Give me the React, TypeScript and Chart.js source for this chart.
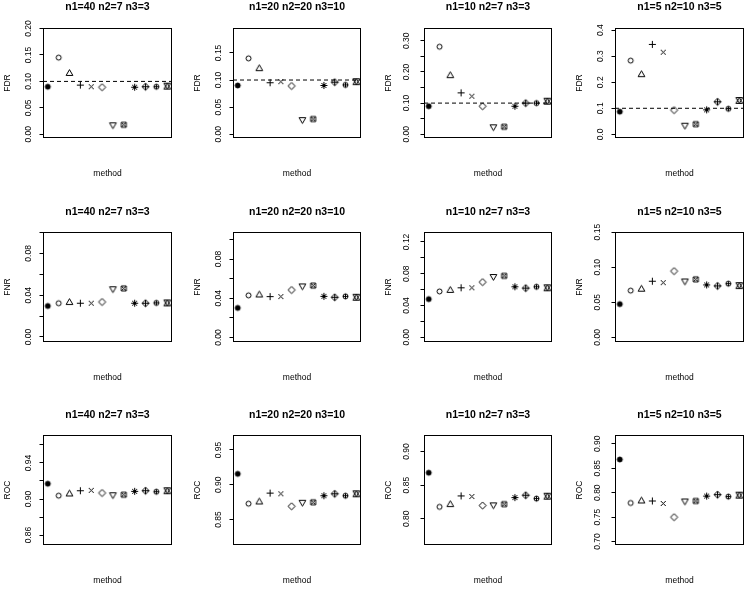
import React, { useEffect, useRef } from "react";
import { Chart, registerables } from "chart.js";

Chart.register(...registerables);

// ---------------- data ----------------
const methods = [1, 2, 3, 4, 5, 6, 7, 8, 9, 10, 11, 12];
const pchCodes = [16, 1, 2, 3, 4, 5, 6, 7, 8, 9, 10, 11];
const settings = ["n1=40 n2=7 n3=3", "n1=20 n2=20 n3=10", "n1=10 n2=7 n3=3", "n1=5 n2=10 n3=5"];
const metricNames = ["FDR", "FNR", "ROC"];
const xAxisTitle = "method";
const fdrLevel = 0.1;

const fdr_40_7_3 = [0.090, 0.145, 0.115, 0.093, 0.090, 0.089, 0.018, 0.018, 0.089, 0.090, 0.090, 0.091];
const fdr_20_20_10 = [0.090, 0.140, 0.121, 0.095, 0.097, 0.089, 0.027, 0.028, 0.090, 0.096, 0.091, 0.097];
const fdr_10_7_3 = [0.090, 0.281, 0.188, 0.133, 0.122, 0.090, 0.024, 0.024, 0.090, 0.100, 0.100, 0.106];
const fdr_5_10_5 = [0.087, 0.283, 0.229, 0.345, 0.315, 0.093, 0.035, 0.039, 0.094, 0.125, 0.098, 0.130];

const fnr_40_7_3 = [0.0297, 0.0323, 0.0330, 0.0323, 0.0323, 0.0335, 0.0462, 0.0465, 0.0323, 0.0323, 0.0326, 0.0326];
const fnr_20_20_10 = [0.0302, 0.0430, 0.0434, 0.0417, 0.0417, 0.0485, 0.0526, 0.0529, 0.0420, 0.0410, 0.0420, 0.0410];
const fnr_10_7_3 = [0.0480, 0.0577, 0.0590, 0.0623, 0.0623, 0.0694, 0.0765, 0.0773, 0.0635, 0.0619, 0.0635, 0.0623];
const fnr_5_10_5 = [0.0474, 0.0667, 0.0686, 0.0800, 0.0780, 0.0945, 0.0804, 0.0827, 0.0748, 0.0734, 0.0766, 0.0738];

const roc_40_7_3 = [0.9170, 0.9037, 0.9056, 0.9092, 0.9096, 0.9067, 0.9048, 0.9048, 0.9085, 0.9092, 0.9081, 0.9092];
const roc_20_20_10 = [0.9157, 0.8729, 0.8753, 0.8881, 0.8871, 0.8691, 0.8749, 0.8749, 0.8843, 0.8871, 0.8843, 0.8871];
const roc_10_7_3 = [0.8684, 0.8177, 0.8211, 0.8340, 0.8330, 0.8197, 0.8207, 0.8217, 0.8315, 0.8350, 0.8300, 0.8335];
const roc_5_10_5 = [0.8680, 0.7790, 0.7830, 0.7830, 0.7780, 0.7500, 0.7830, 0.7830, 0.7930, 0.7960, 0.7920, 0.7950];

// tick values and labels
const fdrTicks = [
  [0, 0.05, 0.1, 0.15, 0.2],
  [0, 0.05, 0.1, 0.15],
  [0, 0.05, 0.1, 0.15, 0.2, 0.25, 0.3],
  [0, 0.1, 0.2, 0.3, 0.4],
];
const fdrTickLabels = [
  ["0.00", "0.05", "0.10", "0.15", "0.20"],
  ["0.00", "0.05", "0.10", "0.15"],
  ["0.00", "", "0.10", "", "0.20", "", "0.30"],
  ["0.0", "0.1", "0.2", "0.3", "0.4"],
];
const fnrTicks = [
  [0, 0.02, 0.04, 0.06, 0.08, 0.1],
  [0, 0.02, 0.04, 0.06, 0.08, 0.1],
  [0, 0.02, 0.04, 0.06, 0.08, 0.1, 0.12],
  [0, 0.05, 0.1, 0.15],
];
const fnrTickLabels = [
  ["0.00", "", "0.04", "", "0.08", ""],
  ["0.00", "", "0.04", "", "0.08", ""],
  ["0.00", "", "0.04", "", "0.08", "", "0.12"],
  ["0.00", "0.05", "0.10", "0.15"],
];
const rocTicks = [
  [0.86, 0.88, 0.9, 0.92, 0.94, 0.96],
  [0.85, 0.9, 0.95],
  [0.8, 0.85, 0.9],
  [0.7, 0.75, 0.8, 0.85, 0.9],
];
const rocTickLabels = [
  ["0.86", "", "0.90", "", "0.94", ""],
  ["0.85", "0.90", "0.95"],
  ["0.80", "0.85", "0.90"],
  ["0.70", "0.75", "0.80", "0.85", "0.90"],
];

// axis ranges
const fdrRanges = [[-0.007, 0.201], [-0.007, 0.196], [-0.012, 0.341], [-0.014, 0.408]];
const fnrRanges = [[-0.0048, 0.1005], [-0.0045, 0.1075], [-0.006, 0.1325], [-0.0066, 0.1502]];
const rocRanges = [[0.849, 0.971], [0.8135, 0.9715], [0.761, 0.9245], [0.693, 0.918]];
const xRange = [0.56, 12.44];

// ---------------- layout ----------------
const FONT = '"Liberation Sans", Arial, Helvetica, sans-serif';
const TITLE_SIZE = 10.5;
const LABEL_SIZE = 8.5;
const boxLefts = [43, 233, 424, 615];
const boxWidths = [129, 128, 128, 129];
const boxTops = [28, 232, 435];
const boxHeights = [110, 110, 110];
const titleGaps = [20.8, 20.2, 19.6];
const tickPads = [2.2, 2.2, 5.2, 5.2];
const ML = 44, MT = 28, MB = 46, MR = 5;
const SYM_R = 2.5;

const valueRows = [
  [fdr_40_7_3, fdr_20_20_10, fdr_10_7_3, fdr_5_10_5],
  [fnr_40_7_3, fnr_20_20_10, fnr_10_7_3, fnr_5_10_5],
  [roc_40_7_3, roc_20_20_10, roc_10_7_3, roc_5_10_5],
];
const tickRows = [fdrTicks, fnrTicks, rocTicks];
const tickLabelRows = [fdrTickLabels, fnrTickLabels, rocTickLabels];
const rangeRows = [fdrRanges, fnrRanges, rocRanges];

function makeSymbol(pch: number, R: number): HTMLCanvasElement {
  const S = 15;
  const c = document.createElement("canvas");
  c.width = S;
  c.height = S;
  const ctx = c.getContext("2d") as CanvasRenderingContext2D;
  const m = S / 2;
  ctx.strokeStyle = "#000";
  ctx.fillStyle = "#000";
  ctx.lineWidth = 1;
  const line = (x1: number, y1: number, x2: number, y2: number) => {
    ctx.moveTo(m + x1, m + y1);
    ctx.lineTo(m + x2, m + y2);
  };
  const poly = (pts: number[][]) => {
    ctx.moveTo(m + pts[0][0], m + pts[0][1]);
    for (let i = 1; i < pts.length; i++) ctx.lineTo(m + pts[i][0], m + pts[i][1]);
    ctx.closePath();
  };
  const s2 = Math.SQRT2;
  ctx.beginPath();
  switch (pch) {
    case 16:
      ctx.arc(m, m, R, 0, Math.PI * 2);
      ctx.fill();
      break;
    case 1:
      ctx.arc(m, m, R, 0, Math.PI * 2);
      break;
    case 2: {
      const r = 1.555 * R, yc = 0.778 * R, xc = 1.347 * R;
      poly([[0, -r], [xc, yc], [-xc, yc]]);
      break;
    }
    case 6: {
      const r = 1.555 * R, yc = 0.778 * R, xc = 1.347 * R;
      poly([[0, r], [xc, -yc], [-xc, -yc]]);
      break;
    }
    case 3: {
      const d = s2 * R;
      line(-d, 0, d, 0);
      line(0, -d, 0, d);
      break;
    }
    case 4: {
      const d = R;
      line(-d, -d, d, d);
      line(-d, d, d, -d);
      break;
    }
    case 5: {
      const d = s2 * R;
      poly([[0, -d], [d, 0], [0, d], [-d, 0]]);
      break;
    }
    case 7: {
      const d = R;
      poly([[-d, -d], [d, -d], [d, d], [-d, d]]);
      line(-d, -d, d, d);
      line(-d, d, d, -d);
      break;
    }
    case 8: {
      const d = R, p = s2 * R;
      line(-d, -d, d, d);
      line(-d, d, d, -d);
      line(-p, 0, p, 0);
      line(0, -p, 0, p);
      break;
    }
    case 9: {
      const d = s2 * R;
      poly([[0, -d], [d, 0], [0, d], [-d, 0]]);
      line(-d, 0, d, 0);
      line(0, -d, 0, d);
      break;
    }
    case 10: {
      ctx.arc(m, m, R, 0, Math.PI * 2);
      ctx.moveTo(m - R, m);
      ctx.lineTo(m + R, m);
      ctx.moveTo(m, m - R);
      ctx.lineTo(m, m + R);
      break;
    }
    case 11: {
      const xc = 1.347 * R, yc = 1.166 * R;
      poly([[-xc, yc], [xc, yc], [0, -yc]]);
      poly([[-xc, -yc], [xc, -yc], [0, yc]]);
      break;
    }
  }
  ctx.stroke();
  return c;
}

const textPlugin = {
  id: "panelText",
  afterDraw(chart: any, _args: any, opts: any) {
    const { ctx, chartArea: a } = chart;
    ctx.save();
    ctx.strokeStyle = "#000";
    ctx.lineWidth = 1;
    ctx.strokeRect(a.left + 0.5, a.top + 0.5, a.right - a.left - 1, a.bottom - a.top - 1);
    ctx.fillStyle = "#000";
    ctx.textAlign = "center";
    ctx.textBaseline = "middle";
    const cx = (a.left + a.right) / 2;
    ctx.font = `bold ${TITLE_SIZE}px ${FONT}`;
    ctx.fillText(opts.title, cx, a.top - opts.titleGap);
    ctx.font = `${LABEL_SIZE}px ${FONT}`;
    ctx.fillText(opts.xTitle, cx, a.bottom + 35.5);
    ctx.translate(a.left - 35, (a.top + a.bottom) / 2);
    ctx.rotate(-Math.PI / 2);
    ctx.fillText(opts.yTitle, 0, 0);
    ctx.restore();
  },
};

type PanelProps = { row: number; col: number };

function Panel({ row, col }: PanelProps) {
  const ref = useRef<HTMLCanvasElement | null>(null);
  const width = boxWidths[col] + ML + MR;
  const height = boxHeights[row] + MT + MB;
  const left = boxLefts[col] - ML;
  const top = boxTops[row] - MT;

  useEffect(() => {
    if (!ref.current) return;
    const values = valueRows[row][col];
    const ticks = tickRows[row][col];
    const tickLabels = tickLabelRows[row][col];
    const [yMin, yMax] = rangeRows[row][col];
    const symbols = pchCodes.map((p) => makeSymbol(p, SYM_R));
    const datasets: any[] = [
      {
        data: methods.map((m, i) => ({ x: m, y: values[i] })),
        pointStyle: symbols,
        pointRadius: 3,
        borderColor: "#000",
        backgroundColor: "#000",
        showLine: false,
      },
    ];
    if (row === 0) {
      datasets.push({
        data: [
          { x: xRange[0], y: fdrLevel },
          { x: xRange[1], y: fdrLevel },
        ],
        showLine: true,
        pointRadius: 0,
        borderColor: "#000",
        borderWidth: 1,
        borderDash: [4, 3],
      });
    }
    const chart = new Chart(ref.current, {
      type: "scatter",
      data: { datasets },
      plugins: [textPlugin as any],
      options: {
        responsive: false,
        animation: false,
        events: [],
        layout: { padding: { top: MT, bottom: MB, left: 0, right: MR } },
        plugins: {
          legend: { display: false },
          tooltip: { enabled: false },
          title: { display: false },
          panelText: {
            title: settings[col],
            yTitle: metricNames[row],
            xTitle: xAxisTitle,
            titleGap: titleGaps[row],
          },
        } as any,
        scales: {
          x: { type: "linear", min: xRange[0], max: xRange[1], display: false },
          y: {
            type: "linear",
            min: yMin,
            max: yMax,
            afterBuildTicks: (s: any) => {
              s.ticks = ticks.map((v) => ({ value: v }));
            },
            afterFit: (s: any) => {
              s.width = ML;
            },
            grid: {
              drawOnChartArea: false,
              drawTicks: true,
              tickLength: 3.5,
              color: "#000",
              tickColor: "#000",
              lineWidth: 1,
            },
            border: { display: false },
            ticks: {
              autoSkip: false,
              includeBounds: false,
              minRotation: 90,
              maxRotation: 90,
              crossAlign: "center",
              padding: tickPads[col],
              color: "#000",
              font: { family: FONT, size: LABEL_SIZE },
              callback: (_v: any, i: number) => tickLabels[i],
            },
          },
        },
      } as any,
    });
    return () => chart.destroy();
  }, [row, col]);

  return (
    <canvas
      ref={ref}
      width={width}
      height={height}
      style={{ position: "absolute", left, top, width, height }}
    />
  );
}

export default function App() {
  const cells: JSX.Element[] = [];
  for (let r = 0; r < 3; r++) {
    for (let c = 0; c < 4; c++) {
      cells.push(<Panel key={`${r}-${c}`} row={r} col={c} />);
    }
  }
  return (
    <div
      style={{
        position: "absolute",
        left: 0,
        top: 0,
        width: 750,
        height: 590,
        background: "#fff",
        overflow: "hidden",
      }}
    >
      {cells}
    </div>
  );
}
